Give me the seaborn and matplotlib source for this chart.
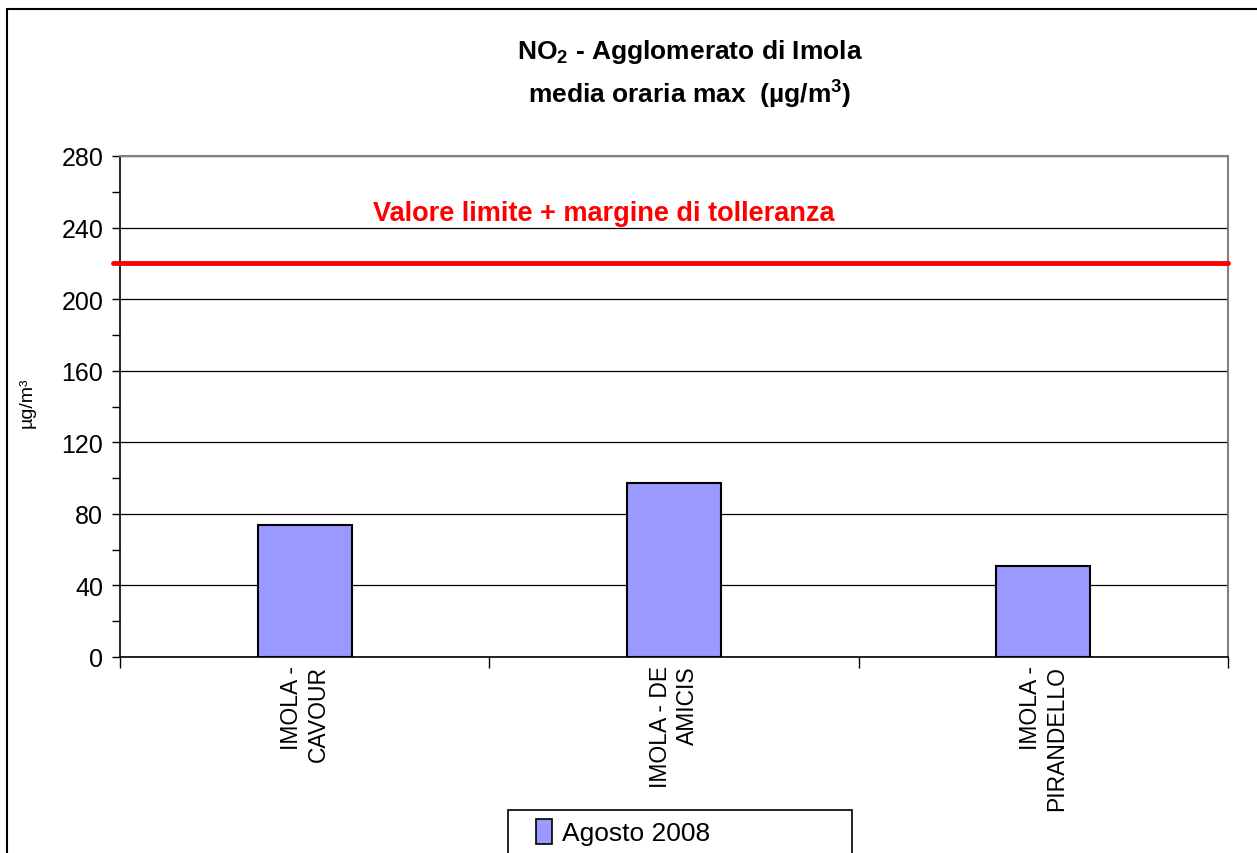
import matplotlib
matplotlib.use("Agg")
import matplotlib.pyplot as plt
import seaborn as sns
import pandas as pd
from matplotlib.ticker import MultipleLocator, FixedLocator
from matplotlib.lines import Line2D
from matplotlib.patches import Patch, Rectangle

# ____________ dati ____________
stazioni = ["IMOLA -\nCAVOUR", "IMOLA - DE\nAMICIS", "IMOLA -\nPIRANDELLO"]
valori = [74, 97, 51]
serie = "Agosto 2008"
limite = 220
testo_limite = "Valore limite + margine di tolleranza"

sns.set_theme(style="white")
plt.rcParams['font.family'] = ['Liberation Sans', 'DejaVu Sans']
plt.rcParams['text.color'] = 'black'
plt.rcParams['axes.labelcolor'] = 'black'
plt.rcParams['xtick.color'] = 'black'
plt.rcParams['ytick.color'] = 'black'
plt.rcParams['mathtext.fontset'] = 'custom'
plt.rcParams['mathtext.rm'] = 'Liberation Sans:bold'
plt.rcParams['mathtext.it'] = 'Liberation Sans:bold'
plt.rcParams['mathtext.bf'] = 'Liberation Sans:bold'

df = pd.DataFrame({"stazione": stazioni, "valore": valori})

fig = plt.figure(figsize=(12.57, 8.54), dpi=100)
ax = fig.add_axes([120/1257, 1-658/854, 1108/1257, 501/854])

sns.barplot(data=df, x="stazione", y="valore", color="#9999FF", width=0.255,
            edgecolor="black", linewidth=1.5, saturation=1, ax=ax, zorder=3)

# griglia orizzontale
ax.set_ylim(0, 280)
ax.set_xlim(-0.5, len(stazioni) - 0.5)
ax.yaxis.set_major_locator(MultipleLocator(40))
ax.yaxis.set_minor_locator(MultipleLocator(20))
ax.grid(axis="y", which="major", color="black", linewidth=0.9, zorder=0)
ax.set_axisbelow(True)

ax.xaxis.set_minor_locator(FixedLocator([i - 0.5 for i in range(len(stazioni) + 1)]))
ax.tick_params(axis="x", which="major", length=0, pad=6)
ax.tick_params(axis="x", which="minor", length=8, width=1, color="black", direction="out", bottom=True)
ax.tick_params(axis="y", which="major", length=6, width=1, color="black", direction="out", left=True, labelsize=18, pad=6)
ax.tick_params(axis="y", which="minor", length=6, width=1, color="black", direction="out", left=True)

for lab in ax.get_xticklabels():
    lab.set_rotation(90)
    lab.set_fontsize(16.5)
    lab.set_ha("center")
    lab.set_va("top")
    lab.set_multialignment("right")

ax.set_xlabel("")
ax.set_ylabel("µg/m³", fontsize=14)
ax.yaxis.set_label_coords(-0.076, 0.51)

for s in ["left", "bottom"]:
    ax.spines[s].set_color("black")
    ax.spines[s].set_linewidth(1.2)
for s in ["top", "right"]:
    ax.spines[s].set_color("#808080")
    ax.spines[s].set_linewidth(1.5)

# linea del limite
ax.axhline(limite, xmin=-0.006, xmax=1, color="#FF0000", linewidth=3.5, zorder=4, clip_on=False)
ax.text(0.228, 248, testo_limite, transform=ax.get_yaxis_transform(), color="#FF0000",
        fontsize=19.5, fontweight="bold", ha="left", va="center")

# titolo
fig.text(690/1257, 1-52/854, r"NO$_2$ - Agglomerato di Imola", ha="center", va="center",
         fontsize=19, fontweight="bold")
fig.text(690/1257, 1-95/854, r"media oraria max  (µg/m$^3$)", ha="center", va="center",
         fontsize=19, fontweight="bold")

# legenda
fig.add_artist(Rectangle((508/1257, -0.01), 344/1257, 1-811/854 + 0.01, transform=fig.transFigure,
                         facecolor="white", edgecolor="black", linewidth=1.2))
handles = [Patch(facecolor="#9999FF", edgecolor="black", linewidth=1.2, label=serie)]
fig.legend(handles=handles, loc="center left", bbox_to_anchor=(536/1257, 1-833/854),
           fontsize=19, frameon=False, handlelength=0.6, handleheight=1.1,
           handletextpad=0.4, borderpad=0, borderaxespad=0)

# cornice esterna
fig.add_artist(Line2D([7/1257, 1.0], [1-10/854, 1-10/854], color="black", linewidth=1.5, transform=fig.transFigure))
fig.add_artist(Line2D([7/1257, 7/1257], [0, 1-10/854], color="black", linewidth=1.5, transform=fig.transFigure))

fig.savefig("out.png", dpi=100)
